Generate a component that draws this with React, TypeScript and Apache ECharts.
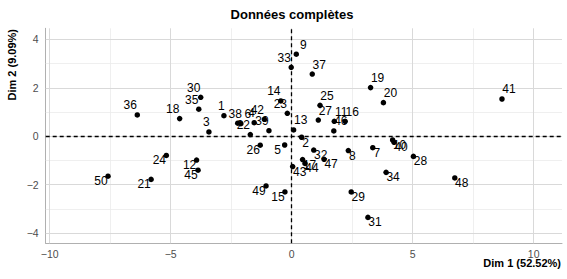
import React, { useEffect, useRef } from "react";
import * as echarts from "echarts";

// ---- data ----
const pointIds = [
  "1","2","3","4","5","6","7","8","9","10",
  "11","12","13","14","15","16","17","18","19","20",
  "21","22","23","24","25","26","27","28","29","30",
  "31","32","33","34","35","36","37","38","39","40",
  "41","42","43","44","45","46","47","48","49","50",
];
const dim1 = [
  -2.80, 0.41, -3.42, -1.55, -0.29, -2.10, 3.35, 2.34, 0.19, 4.17,
  1.76, -3.93, 0.08, -0.45, -0.28, 2.21, 0.45, -4.63, 3.26, 3.79,
  -5.81, -1.71, -0.18, -5.18, 1.17, -1.30, 1.10, 5.03, 2.46, -3.76,
  3.15, 0.91, -0.02, 3.90, -3.84, -6.38, 0.85, -2.23, -0.94, 4.23,
  8.69, -1.13, 0.04, 0.55, -3.87, 1.74, 1.34, 6.74, -1.06, -7.59,
];
const dim2 = [
  0.85, -0.04, 0.18, 0.56, -0.36, 0.52, -0.47, -0.59, 3.39, -0.15,
  0.62, -0.98, 0.26, 1.46, -2.30, 0.62, -0.96, 0.73, 2.01, 1.39,
  -1.78, 0.07, 0.95, -0.79, 1.28, -0.37, 0.67, -0.83, -2.30, 1.61,
  -3.35, -0.57, 2.85, -1.49, 1.12, 0.88, 2.57, 0.54, 0.23, -0.25,
  1.54, 0.70, -1.25, -1.12, -1.40, 0.22, -0.95, -1.72, -2.05, -1.65,
];
// where each label sits relative to its point
const labelSide = [
  "uc","dc","uc","uc","dl","ur","dc","dc","ur","dr",
  "ur","dl","ur","ul","dl","ur","dr","ul","ur","ur",
  "dl","ul","ul","dl","ur","dl","ur","dr","dr","ul",
  "dr","dr","ul","dr","ul","ul","ur","uc","ul","dr",
  "ur","ul","dr","dr","dl","ur","dr","dr","dl","dl",
];

const xMajor = [-10, -5, 0, 5, 10];
const xMinor = [-7.5, -2.5, 2.5, 7.5];
const yMajor = [-4, -2, 0, 2, 4];
const yMinor = [-3, -1, 1, 3];

const titleText = "Données complètes";
const xTitle = "Dim 1 (52.52%)";
const yTitle = "Dim 2 (9.09%)";

const FONT = "'Liberation Sans', Arial, Helvetica, sans-serif";
const sideOffset: Record<string, number[]> = {
  ur: [7, -9.5],
  ul: [-7, -9.5],
  uc: [-2.5, -9.5],
  dr: [7, 5],
  dl: [-7, 5],
  dc: [4, 5.5],
};

const fmt = (v: number) => String(v).replace("-", "\u2212");

export default function App() {
  const ref = useRef<HTMLDivElement>(null);
  useEffect(() => {
    if (!ref.current) return;
    const chart = echarts.init(ref.current, null, { renderer: "svg" });

    const majorStyle = { color: "#d9d9d9", width: 1, type: "solid" };
    const minorStyle = { color: "#ebebeb", width: 0.8, type: "solid" };
    const tickLabel = {
      show: true,
      position: "start",
      color: "#4d4d4d",
      fontSize: 10.5,
      fontFamily: FONT,
      textBorderWidth: 0,
    };

    const gridLines: any[] = [];
    xMinor.forEach((v) =>
      gridLines.push({ xAxis: v, lineStyle: minorStyle, label: { show: false } })
    );
    yMinor.forEach((v) =>
      gridLines.push({ yAxis: v, lineStyle: minorStyle, label: { show: false } })
    );
    xMajor.forEach((v) =>
      gridLines.push({
        xAxis: v,
        lineStyle: majorStyle,
        label: { ...tickLabel, distance: 5, formatter: fmt(v) },
      })
    );
    yMajor.forEach((v) =>
      gridLines.push({
        yAxis: v,
        lineStyle: majorStyle,
        label: { ...tickLabel, distance: 7, formatter: fmt(v) },
      })
    );

    const zeroLines = [
      { xAxis: 0, lineStyle: { color: "#000", width: 1.3, type: [4, 3] }, label: { show: false } },
      { yAxis: 0, lineStyle: { color: "#000", width: 1.3, type: [4, 3] }, label: { show: false } },
    ];

    const points = pointIds.map((id, i) => ({
      name: id,
      value: [dim1[i], dim2[i]],
      label: { offset: sideOffset[labelSide[i]] },
    }));

    chart.setOption({
      animation: false,
      color: ["#000000"],
      grid: { left: 45.7, right: 5, top: 28.3, bottom: 35.7, containLabel: false },
      xAxis: {
        type: "value",
        min: -10.165,
        max: 11.17,
        axisLine: { show: true, onZero: false, lineStyle: { color: "#b0b0b0", width: 1 } },
        axisTick: { show: false },
        axisLabel: { show: false },
        splitLine: { show: false },
      },
      yAxis: {
        type: "value",
        min: -4.42,
        max: 4.46,
        axisLine: { show: true, onZero: false, lineStyle: { color: "#b0b0b0", width: 1 } },
        axisTick: { show: false },
        axisLabel: { show: false },
        splitLine: { show: false },
      },
      graphic: [
        {
          type: "text",
          x: 292,
          y: 14,
          style: {
            text: titleText,
            textAlign: "center",
            textVerticalAlign: "middle",
            fontSize: 13,
            fontWeight: "bold",
            fontFamily: FONT,
            fill: "#000",
          },
        },
        {
          type: "text",
          x: 561,
          y: 263,
          style: {
            text: xTitle,
            textAlign: "right",
            textVerticalAlign: "middle",
            fontSize: 11,
            fontWeight: "bold",
            fontFamily: FONT,
            fill: "#000",
          },
        },
        {
          type: "text",
          x: 12,
          y: 29,
          rotation: Math.PI / 2,
          style: {
            text: yTitle,
            textAlign: "right",
            textVerticalAlign: "middle",
            fontSize: 11,
            fontWeight: "bold",
            fontFamily: FONT,
            fill: "#000",
          },
        },
      ],
      series: [
        {
          type: "scatter",
          data: [],
          z: 1,
          silent: true,
          markLine: {
            silent: true,
            z: 1,
            symbol: ["none", "none"],
            animation: false,
            emphasis: { disabled: true },
            data: gridLines,
          },
        },
        {
          type: "scatter",
          data: [],
          z: 2,
          silent: true,
          markLine: {
            silent: true,
            z: 2,
            symbol: ["none", "none"],
            animation: false,
            emphasis: { disabled: true },
            data: zeroLines,
          },
        },
        {
          type: "scatter",
          z: 5,
          symbolSize: 5.5,
          itemStyle: { color: "#000", opacity: 1 },
          data: points,
          label: {
            show: true,
            position: "inside",
            formatter: (p: any) => p.name,
            color: "#000",
            textBorderWidth: 0,
            textBorderColor: "transparent",
            fontSize: 12,
            fontFamily: FONT,
            align: "center",
            verticalAlign: "middle",
          },
          emphasis: { disabled: true },
        },
      ],
    });
    return () => chart.dispose();
  }, []);
  return (
    <div
      ref={ref}
      style={{ position: "fixed", left: 0, top: 0, width: 567, height: 279, background: "#fff" }}
    />
  );
}
